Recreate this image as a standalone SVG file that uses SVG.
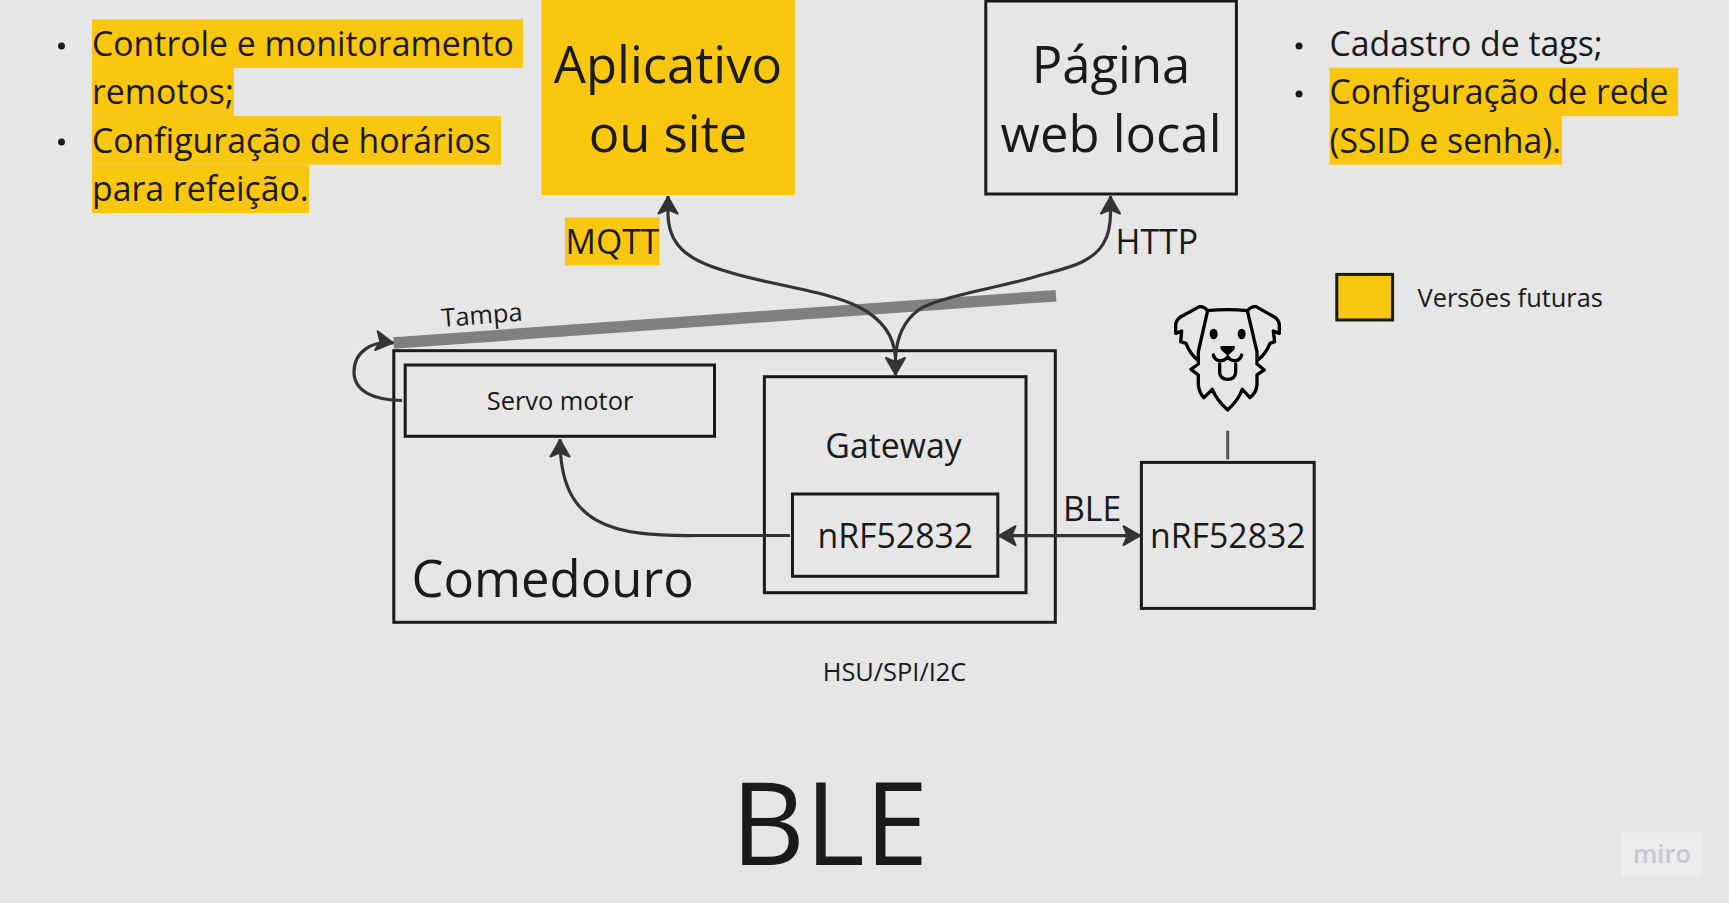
<svg xmlns="http://www.w3.org/2000/svg" width="1729" height="903" viewBox="0 0 1729 903">
<style>
text{font-family:"Open Sans","Noto Sans",sans-serif;fill:#1a1a1a}
.b{fill:none;stroke:#1a1a1a;stroke-width:3}
.hl{fill:#fac710}
.t32{font-size:33.8px}
.t54{font-size:50.8px}
.t24{font-size:25.4px}
.m{text-anchor:middle}
.c{fill:none;stroke:#333;stroke-width:3.2;marker-end:url(#ah)}
.dog{fill:none;stroke:#000;stroke-width:10;stroke-linejoin:round;stroke-linecap:round}
</style>
<defs>
<marker id="ah" markerUnits="userSpaceOnUse" markerWidth="22" markerHeight="26" viewBox="0 0 22 26" refX="19" refY="13" orient="auto-start-reverse">
<path d="M18 13L1.5 3.5L5.5 13L1.5 22.5Z" fill="#333" stroke="#333" stroke-width="2" stroke-linejoin="round"/>
</marker>
</defs>
<rect width="1729" height="903" fill="#e6e6e6"/>

<g id="notes-left">
<rect class="hl" x="92" y="19.3" width="431" height="48.5"/>
<rect class="hl" x="92" y="67.7" width="142" height="48.5"/>
<rect class="hl" x="92" y="116.1" width="409" height="48.5"/>
<rect class="hl" x="92" y="164.5" width="217" height="48.5"/>
<circle cx="61.5" cy="46" r="3.5" fill="#1a1a1a"/>
<circle cx="61.5" cy="142" r="3.5" fill="#1a1a1a"/>
<text class="t32" x="92" y="55.5">Controle e monitoramento</text>
<text class="t32" x="92" y="103.9">remotos;</text>
<text class="t32" x="92" y="152.8">Configuração de horários</text>
<text class="t32" x="92" y="200.7">para refeição.</text>
</g>

<g id="node-app">
<rect class="hl" x="541.4" y="0" width="253.4" height="195"/>
<text class="t54 m" x="668" y="83">Aplicativo</text>
<text class="t54 m" x="668" y="151.7">ou site</text>
</g>

<g id="node-web">
<rect class="b" x="985.8" y="1" width="250.6" height="193"/>
<text class="t54 m" x="1111" y="83">Página</text>
<text class="t54 m" x="1111" y="151.7">web local</text>
</g>

<g id="notes-right">
<rect class="hl" x="1329.6" y="67.7" width="348.4" height="48.5"/>
<rect class="hl" x="1329.6" y="116.1" width="232.4" height="48.5"/>
<circle cx="1299" cy="46" r="3.5" fill="#1a1a1a"/>
<circle cx="1299" cy="94" r="3.5" fill="#1a1a1a"/>
<text class="t32" x="1329.5" y="55.5">Cadastro de tags;</text>
<text class="t32" x="1329.5" y="103.9">Configuração de rede</text>
<text class="t32" x="1329.5" y="152.8">(SSID e senha).</text>
</g>

<g id="label-mqtt">
<rect class="hl" x="565" y="217.3" width="94.5" height="48"/>
<text class="t32" x="565.5" y="254.3">MQTT</text>
</g>
<text id="label-http" class="t32" x="1115.5" y="254.3">HTTP</text>

<g id="legend">
<rect class="hl" x="1336.8" y="274.4" width="55.8" height="45.6" stroke="#1a1a1a" stroke-width="3"/>
<text class="t24" x="1417.5" y="306.9">Versões futuras</text>
</g>

<g id="lid">
<path d="M393.7 343L1056 295.7" fill="none" stroke="#808080" stroke-width="11.5"/>
<text class="t24" transform="translate(442 327) rotate(-4.5)">Tampa</text>
</g>

<g id="node-feeder">
<rect class="b" x="393.8" y="350.7" width="661.5" height="271.6"/>
<text class="t54" x="411.5" y="597.3">Comedouro</text>
</g>
<g id="node-servo">
<rect class="b" x="405.2" y="365" width="309.3" height="71.3"/>
<text class="t24 m" x="560" y="409.5">Servo motor</text>
</g>
<g id="node-gateway">
<rect class="b" x="764.4" y="376.7" width="261.6" height="216"/>
<text class="t32 m" x="893.5" y="457.5">Gateway</text>
</g>
<g id="node-nrf-inner">
<rect class="b" x="792.5" y="494" width="205.3" height="82.3"/>
<text class="t32 m" x="895.3" y="547.7">nRF52832</text>
</g>
<g id="node-nrf-outer">
<rect class="b" x="1141.4" y="462.4" width="172.8" height="146"/>
<text class="t32 m" x="1227.8" y="547.7">nRF52832</text>
</g>

<g id="node-dog" transform="translate(1130 290) scale(.3333)">
<path class="dog" d="M233 62Q222 48 208 50L150 82Q137 92 137 106V130L155 123L152 155L168 160Q180 192 205 212V222L183 238L205 255V285Q208 310 222 323L247 298Q260 330 293 360Q326 330 337 298L360 323Q378 310 381 285V255L403 240L381 222V212Q408 192 420 160L434 155L430 123L448 130V106Q448 92 435 82L378 50Q364 48 352 62Q293 56 233 62M233 62L205 185V212M352 62L381 185V212"/>
<ellipse cx="251" cy="132" rx="12" ry="16" fill="#000"/>
<ellipse cx="335" cy="132" rx="12" ry="16" fill="#000"/>
<path d="M273 168H313Q318 172 310 182L293 197L276 182Q268 172 273 168Z" fill="#000"/>
<path class="dog" d="M250 195C255 215 280 218 293 200C305 218 330 215 335 195M269 222V248Q271 268 293 268Q315 268 317 248V222"/>
</g>

<g id="connectors">
<path class="c" d="M895.5 357C894 335 880 318 859 307C838 296 800 289 768 282C745 277 730 273 713 267C688 258 668 245 668 213V196"/>
<path class="c" d="M895.5 357C897 335 905 320 918.5 310C935 298 995 288 1031 278C1050 272 1068 269 1082 262C1100 253 1110.5 240 1110.5 213V196"/>
<path class="c" d="M895.5 350V375.5"/>
<path class="c" d="M790 535.5H700C610 537 560 525 560 439"/>
<path class="c" d="M402 400.5C375 400 354 392 354 372C354 352 372 340 393.7 343"/>
<path class="c" d="M998 535.7H1141" style="marker-start:url(#ah)"/>
<path d="M1227.7 430.7V459.3" stroke="#555" stroke-width="3" fill="none"/>
</g>

<text id="label-ble" class="t32" x="1063" y="521">BLE</text>
<text id="label-bus" class="t24 m" x="894.5" y="680.5">HSU/SPI/I2C</text>
<text id="title" x="731" y="865" font-size="114.5">BLE</text>
<g id="miro">
<rect x="1621" y="832.7" width="81.6" height="44" fill="#ededed"/>
<text x="1633" y="862.7" font-size="25.5" font-weight="600" style="fill:#c6c6d4">miro</text>
</g>
</svg>
